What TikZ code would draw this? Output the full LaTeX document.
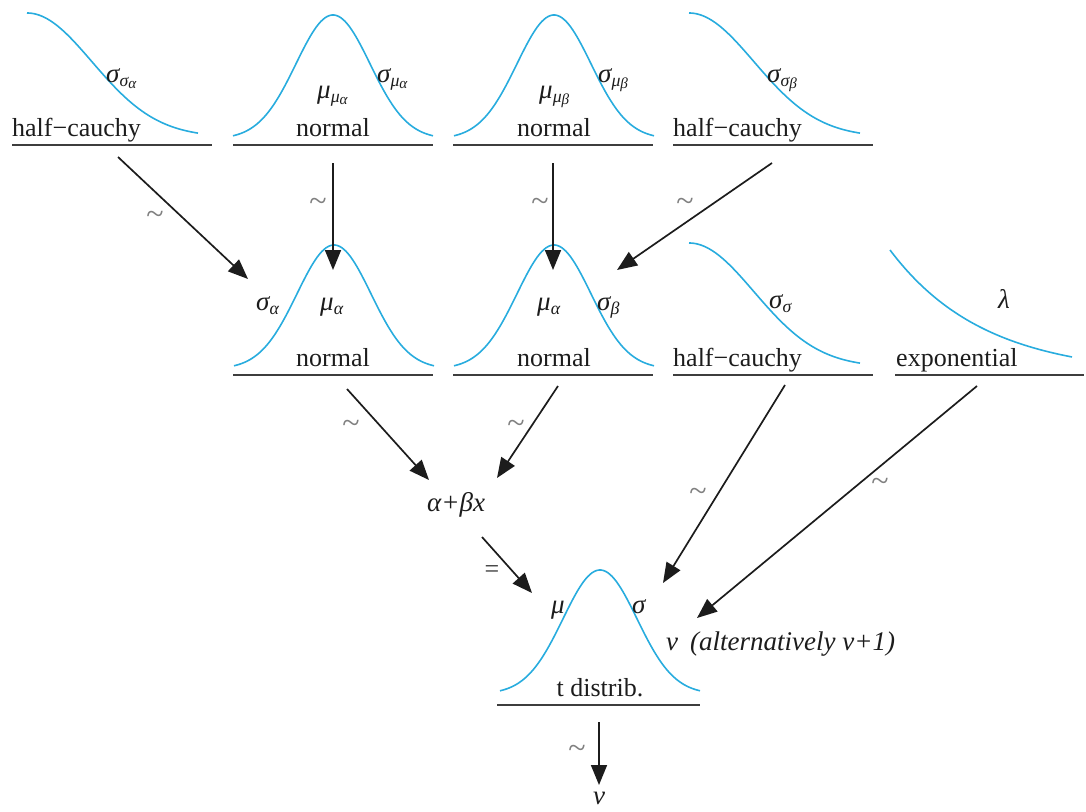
\documentclass[tikz,border=0pt]{standalone}
\usepackage{fontspec}
\setmainfont{Liberation Serif}
\usetikzlibrary{arrows.meta}
\definecolor{curvecol}{RGB}{40,172,222}
\definecolor{ink}{RGB}{28,28,28}
\newcommand\lsub[2]{#1\raisebox{-0.36ex}{\scalebox{0.66}{#2}}}
\newcommand\gausscurve[2]{\draw[dens] plot[domain=-100:100,samples=90,smooth] ({#1+\x},{#2-6-124*exp(-((\x/37)^2)/2)});}
\newcommand\hccurve[2]{\draw[dens] plot[domain=0:171,samples=70,smooth] ({#1+\x},{#2-8-124*exp(-((\x/65)^2)/2)});}
\begin{document}
\begin{tikzpicture}[x=1pt,y=-1pt,
  baseln/.style={draw=ink!85,line width=2pt},
  dens/.style={draw=curvecol,line width=1.6pt},
  arr/.style={-{Triangle[length=20pt,width=16pt]},line width=1.7pt,draw=ink},
  dname/.style={font=\fontsize{26}{26}\selectfont,text=ink,inner sep=0pt,anchor=base},
  prm/.style={font=\fontsize{27}{27}\selectfont\itshape,text=ink,inner sep=0pt,anchor=base west},
  tl/.style={font=\fontsize{32}{32}\selectfont,text=gray,inner sep=0pt}]
\useasboundingbox (0,0) rectangle (1086,811);
% ---- row 1
\draw[baseln] (12,145) -- (212,145);
\hccurve{27}{145}
\node[dname,anchor=base west] (hcA) at (12,136) {half−cauchy};
\node[prm] (pA) at (106,82) {\lsub{σ}{σ\raisebox{-0.2ex}{\scalebox{0.85}{α}}}};

\draw[baseln] (233,145) -- (433,145);
\gausscurve{333}{145}
\node[dname] (nA) at (333,136) {normal};
\node[prm] (pB) at (317,98) {\lsub{μ}{μ\raisebox{-0.2ex}{\scalebox{0.85}{α}}}};
\node[prm] (pC) at (377,82) {\lsub{σ}{μ\raisebox{-0.2ex}{\scalebox{0.85}{α}}}};

\draw[baseln] (453,145) -- (653,145);
\gausscurve{554}{145}
\node[dname] (nB) at (554,136) {normal};
\node[prm] (pD) at (539,98) {\lsub{μ}{μ\raisebox{-0.2ex}{\scalebox{0.85}{β}}}};
\node[prm] (pE) at (598,82) {\lsub{σ}{μ\raisebox{-0.2ex}{\scalebox{0.85}{β}}}};

\draw[baseln] (673,145) -- (873,145);
\hccurve{689}{145}
\node[dname,anchor=base west] (hcB) at (673,136) {half−cauchy};
\node[prm] (pF) at (767,82) {\lsub{σ}{σ\raisebox{-0.2ex}{\scalebox{0.85}{β}}}};

% ---- row 2
\draw[baseln] (233,375) -- (433,375);
\gausscurve{334}{375}
\node[dname] (nAl) at (333,366) {normal};
\node[prm] (pG) at (256,310) {\lsub{σ}{α}};
\node[prm] (pH) at (320,310) {\lsub{μ}{α}};

\draw[baseln] (453,375) -- (653,375);
\gausscurve{554}{375}
\node[dname] (nBe) at (554,366) {normal};
\node[prm] (pI) at (537,310) {\lsub{μ}{α}};
\node[prm] (pJ) at (597,310) {\lsub{σ}{β}};

\draw[baseln] (673,375) -- (873,375);
\hccurve{689}{375}
\node[dname,anchor=base west] (hcS) at (673,366) {half−cauchy};
\node[prm] (pK) at (769,308) {\lsub{σ}{σ}};

\draw[baseln] (895,375) -- (1084,375);
\draw[dens] plot[domain=0:182,samples=60,smooth] ({890+\x},{375-125*exp(-\x/94)});
\node[dname,anchor=base west] (expL) at (896,366) {exponential};
\node[prm] (pL) at (998,308) {λ};

% ---- middle
\node[prm] (ab) at (427,511) {α+βx};

% ---- t distribution
\draw[baseln] (497,705) -- (700,705);
\gausscurve{600}{700}
\node[dname] (tD) at (600,696) {t distrib.};
\node[prm] (pM) at (551,613) {μ};
\node[prm] (pN) at (632,613) {σ};
\node[prm] (pO) at (666,650) {v\hspace{12pt}(alternatively v+1)};
\node[prm,anchor=base] (vOut) at (599,804) {v};

% ---- arrow end points
\coordinate (a1s) at (118,157); \coordinate (a1e) at (248,279);
\coordinate (a2s) at (333,163); \coordinate (a2e) at (333,270);
\coordinate (a3s) at (553,163); \coordinate (a3e) at (553,270);
\coordinate (a4s) at (772,163); \coordinate (a4e) at (617,270);
\coordinate (a5s) at (347,389); \coordinate (a5e) at (429,480);
\coordinate (a6s) at (558,386); \coordinate (a6e) at (497,478);
\coordinate (a7s) at (785,385); \coordinate (a7e) at (663,583);
\coordinate (a8s) at (977,386); \coordinate (a8e) at (697,618);
\coordinate (a9s) at (482,537); \coordinate (a9e) at (532,593);
\coordinate (a10s) at (599,722); \coordinate (a10e) at (599,785);

\draw[arr] (a1s) -- (a1e);
\draw[arr] (a2s) -- (a2e);
\draw[arr] (a3s) -- (a3e);
\draw[arr] (a4s) -- (a4e);
\draw[arr] (a5s) -- (a5e);
\draw[arr] (a6s) -- (a6e);
\draw[arr] (a7s) -- (a7e);
\draw[arr] (a8s) -- (a8e);
\draw[arr] (a9s) -- (a9e);
\draw[arr] (a10s) -- (a10e);

\node[tl] (t1) at (155,218) {\textasciitilde};
\node[tl] (t2) at (318,205) {\textasciitilde};
\node[tl] (t3) at (540,205) {\textasciitilde};
\node[tl] (t4) at (685,205) {\textasciitilde};
\node[tl] (t5) at (351,427) {\textasciitilde};
\node[tl] (t6) at (516,427) {\textasciitilde};
\node[tl] (t7) at (698,495) {\textasciitilde};
\node[tl] (t8) at (880,485) {\textasciitilde};
\node[tl] (t9) at (577,752) {\textasciitilde};
\node[tl,text=ink!90,font=\fontsize{26}{26}\selectfont] (eq) at (492,572) {=};
\end{tikzpicture}
\end{document}
